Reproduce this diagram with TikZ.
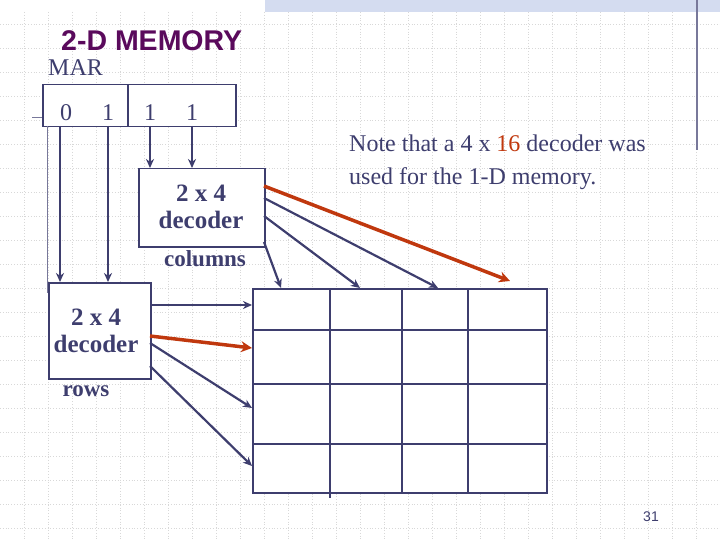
\documentclass[tikz,border=0pt]{standalone}
\usepackage{fontspec}
\setmainfont{Liberation Serif}
\newfontfamily\titlefont{Liberation Sans}
\usetikzlibrary{arrows.meta}
\definecolor{navy}{HTML}{3E3E6E}
\definecolor{rust}{HTML}{C0380E}
\definecolor{ttl}{HTML}{5A0A5C}
\definecolor{gridc}{HTML}{D8D8D8}
\definecolor{band}{HTML}{D4DCF0}
\tikzset{
  box/.style={draw=navy, line width=1.5pt, fill=white, inner sep=0pt},
  lbl/.style={text=navy, font=\fontsize{24}{26}\selectfont, inner sep=0pt},
  arr/.style={draw=navy, line width=2.2pt, -{Stealth[length=9pt,width=8pt]}},
  rarr/.style={draw=rust, line width=3.5pt, -{Stealth[length=11pt,width=11pt]}},
}
\begin{document}
\begin{tikzpicture}[x=1pt,y=-1pt]
\useasboundingbox (0,0) rectangle (720,540);
\fill[white] (0,0) rectangle (720,540);
\foreach \i in {24,48,...,710} \draw[gridc, dotted, line width=0.8pt] (\i,12) -- (\i,540);
\foreach \j in {24,48,...,530} \draw[gridc, dotted, line width=0.8pt] (0,\j) -- (720,\j);
\fill[band] (265,0) rectangle (720,12);
\draw[navy!70, line width=1.2pt] (697,0) -- (697,150);
% title
\node[anchor=west, text=ttl, font=\titlefont\bfseries\fontsize{28.5}{30}\selectfont, inner sep=0pt] (title) at (61,41) {2-D MEMORY};
\node[anchor=west, lbl] (mar) at (48,68) {MAR};
% MAR register
\node[box, minimum width=85pt, minimum height=42pt, anchor=north west] (m1) at (42,84) {};
\node[box, minimum width=108pt, minimum height=42pt, anchor=north west] (m2) at (127,84) {};
\node[lbl] (b0) at (66,113) {0};
\node[lbl] (b1) at (108,113) {1};
\node[lbl] (b2) at (150,113) {1};
\node[lbl] (b3) at (192,113) {1};
\coordinate (tick) at (32,118);
\draw[navy!70, line width=1pt] (tick) -- (m1.west |- tick);
% column decoder
\node[box, minimum width=126pt, minimum height=78pt, anchor=north west] (cd) at (138,168) {};
\node[lbl, font=\bfseries\fontsize{25}{27}\selectfont, align=center] (cdt) at (201,207) {2 x 4\\[0pt]decoder};
\node[lbl, font=\bfseries\fontsize{23}{24}\selectfont] (cols) at (205,259) {columns};
% row decoder
\node[box, minimum width=102pt, minimum height=96pt, anchor=north west] (rd) at (48,282) {};
\node[lbl, font=\bfseries\fontsize{25}{27}\selectfont, align=center] (rdt) at (96,331) {2 x 4\\[0pt]decoder};
\node[lbl, font=\bfseries\fontsize{23}{24}\selectfont] (rows) at (86,391) {rows};
% memory grid
\node[box, minimum width=294pt, minimum height=204pt, anchor=north west] (mem) at (252,288) {};
\draw[navy, line width=1.5pt] (330,288) -- (330,498) (402,288) -- (402,492) (468,288) -- (468,492)
  (252,330) -- (546,330) (252,384) -- (546,384) (252,444) -- (546,444);
% MAR arrows
\coordinate (s0) at (60,126); \coordinate (s1) at (108,126);
\coordinate (s2) at (150,126); \coordinate (s3) at (192,126);
\draw[arr] (s0) -- (s0 |- rd.north);
\draw[arr] (s1) -- (s1 |- rd.north);
\draw[arr] (s2) -- (s2 |- cd.north);
\draw[arr] (s3) -- (s3 |- cd.north);
\draw[navy!70, line width=1pt] (47,126) -- (47,293);
% column decoder outputs
\coordinate (c1) at (281,288); \coordinate (c2) at (360,288);
\coordinate (c3) at (438,288); \coordinate (c4) at (510,281);
\draw[rarr] (264,186) -- (c4);
\draw[arr] (264,198) -- (c3);
\draw[arr] (264,216) -- (c2);
\draw[arr] (264,242) -- (c1);
% row decoder outputs
\coordinate (r1) at (252,305); \coordinate (r2) at (252,348);
\coordinate (r3) at (252,408); \coordinate (r4) at (252,466);
\draw[arr] (150,305) -- (r1);
\draw[rarr] (150,336) -- (r2);
\draw[arr] (150,343) -- (r3);
\draw[arr] (150,366) -- (r4);
% note
\node[anchor=base west, lbl, align=left, font=\fontsize{24}{33}\selectfont] (note) at (349,185)
  {Note that a 4 x \textcolor{rust}{16} decoder was\\used for the 1-D memory.};
\node[font=\titlefont\fontsize{14}{16}\selectfont, text=navy] (pg) at (651,517) {31};
\end{tikzpicture}
\end{document}
